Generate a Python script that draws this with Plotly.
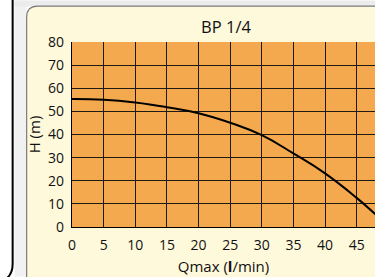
import plotly.graph_objects as go

# Data
flow_q = [0, 5, 10, 15, 20, 25, 30, 35, 40, 45, 48]
head_h = [55.3, 55.0, 53.8, 51.8, 49.2, 45.1, 39.7, 31.8, 23.2, 12.6, 5.4]
x_ticks = [0, 5, 10, 15, 20, 25, 30, 35, 40, 45]
y_ticks = [0, 10, 20, 30, 40, 50, 60, 70, 80]
title_text = "BP 1/4"
x_title = "Qmax (<b>l</b>/min)"
y_title = "H (m)"

W, H = 375, 277
L, T, B = 72.3, 41.5, 227.0
R = 375.0

def px(x):
    return (x - L) / (R - L)

def py(y):
    return (B - y) / (B - T)

FONT = "Open Sans"

fig = go.Figure()
fig.add_trace(go.Scatter(x=flow_q, y=head_h, mode="lines",
                         line=dict(color="black", width=2, shape="spline", smoothing=1.3),
                         hoverinfo="skip", showlegend=False))

# cream rounded box
x0, y0, x1, y1, r = 27, 5.5, 390, 290, 11
box_path = (f"M {px(x0)},{py(y0 + r)} "
            f"Q {px(x0)},{py(y0)} {px(x0 + r)},{py(y0)} "
            f"L {px(x1)},{py(y0)} L {px(x1)},{py(y1)} "
            f"L {px(x0 + r)},{py(y1)} Q {px(x0)},{py(y1)} {px(x0)},{py(y1 - r)} Z")
# black outer line on far left
lx = 13
line_path = (f"M {px(lx)},{py(-5)} L {px(lx)},{py(264)} "
             f"Q {px(lx)},{py(275)} {px(lx - 8)},{py(280)}")
shapes = [
    dict(type="rect", xref="paper", yref="paper", x0=px(15), x1=px(27), y0=py(0), y1=py(277),
         fillcolor="#f1f1f1", line=dict(width=0), layer="below"),
    dict(type="rect", xref="paper", yref="paper", x0=px(15), x1=px(380), y0=py(0), y1=py(6),
         fillcolor="#ececec", line=dict(width=0), layer="below"),
    dict(type="path", xref="paper", yref="paper", path=box_path,
         fillcolor="#FFF9DC", line=dict(color="#7a7a7a", width=1.2), layer="below"),
    dict(type="rect", xref="paper", yref="paper", x0=0, x1=1, y0=0, y1=1,
         fillcolor="#F4A94F", line=dict(width=0), layer="below"),
    dict(type="path", xref="paper", yref="paper", path=line_path,
         line=dict(color="black", width=2), layer="below"),
]

fig.update_layout(
    width=W, height=H,
    margin=dict(l=L, r=0, t=T, b=H - B, pad=0, autoexpand=False),
    paper_bgcolor="white",
    plot_bgcolor="rgba(0,0,0,0)",
    shapes=shapes,
    title=dict(text=title_text, x=226 / W, xanchor="center",
               y=1 - 27 / H, yanchor="middle", yref="container",
               font=dict(family=FONT, size=16.5, color="#111")),
    xaxis=dict(range=[0, (R - L) / 6.32], tickvals=x_ticks, ticktext=[str(v) for v in x_ticks],
               showgrid=True, gridcolor="#1e1a14", gridwidth=1.3, automargin=False,
               showline=True, linecolor="black", linewidth=1.3,
               zeroline=False, ticks="", ticklabelstandoff=5,
               tickfont=dict(family=FONT, size=14, color="#111"),
               title=dict(text=x_title, font=dict(family=FONT, size=15, color="#111"), standoff=8)),
    yaxis=dict(range=[0, 80], tickvals=y_ticks, automargin=False,
               showgrid=True, gridcolor="#1e1a14", gridwidth=1.3,
               showline=True, linecolor="black", linewidth=1.3, mirror=False,
               zeroline=False, ticks="", ticklabelstandoff=4,
               tickfont=dict(family=FONT, size=14, color="#111"),
               title=dict(text=y_title, font=dict(family=FONT, size=15, color="#111"), standoff=3)),
)
fig.write_html("out.html", config={"displayModeBar": False},
               post_script="document.body.style.margin='0';document.body.style.overflow='hidden';")
